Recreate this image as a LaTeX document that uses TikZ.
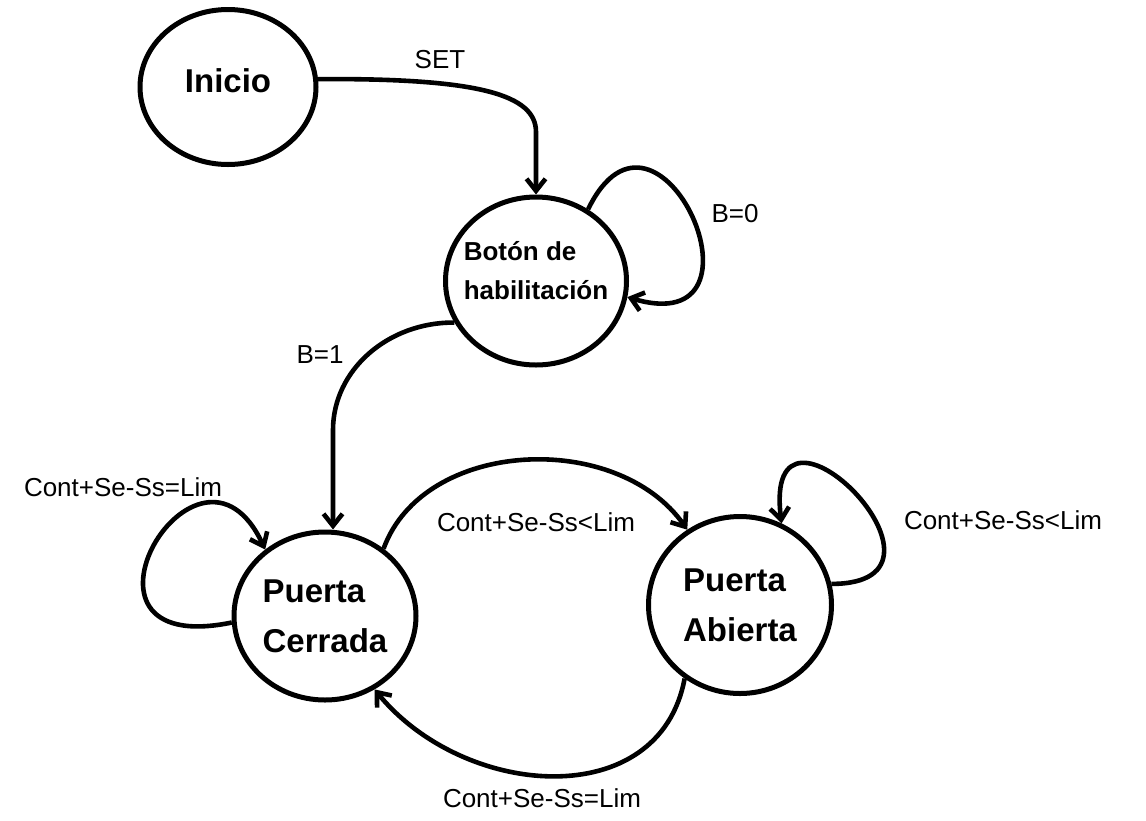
\documentclass[tikz,border=0pt]{standalone}
\usepackage{fontspec}
\setmainfont{Liberation Sans}
\usetikzlibrary{arrows.meta,positioning,shapes.geometric}

\begin{document}
\begin{tikzpicture}[x=1pt,y=-1pt,->,>={Straight Barb[length=12pt,width=19pt]},line width=4.6pt,
state/.style={ellipse,draw,line width=5pt,inner sep=0pt,align=left,font=\bfseries\fontsize{33}{50}\selectfont},
lbl/.style={font=\fontsize{26}{30}\selectfont}]
\useasboundingbox (0,0) rectangle (1146,820);
\node[state,minimum width=176pt,minimum height=155pt,text depth=13pt] (inicio) at (228,87) {Inicio};
\node[state,minimum width=181pt,minimum height=168pt,inner xsep=-14pt,text depth=22pt,font=\bfseries\fontsize{26}{39}\selectfont] (boton) at (536,281) {Botón de\\habilitación};
\node[state,minimum width=182pt,minimum height=168pt] (cerrada) at (325,616) {Puerta\\Cerrada};
\node[state,minimum width=183pt,minimum height=177pt] (abierta) at (740,605) {Puerta\\Abierta};
\coordinate (setbend) at (536,132);
\coordinate (b1bend) at (333,430);
\draw (inicio.5) .. controls (480,78) and (536,95) .. (setbend) node[lbl] (lset) at (440,60) {SET} -- (boton.north);
\draw (boton.54) .. controls +(70,-144) and +(154,46) .. (boton.-10) node[lbl] (lb0) at (735,214) {B=0};
\draw (boton.207) .. controls (388,322) and (333,370) .. (b1bend) node[lbl] (lb1) at (320,355) {B=1} -- (b1bend |- cerrada.north);
\draw (cerrada.184) .. controls +(-185,38) and +(-67,-145) .. (cerrada.132) node[lbl] (lcc) at (123,487) {Cont+Se-Ss=Lim};
\draw (cerrada.49) .. controls +(40,-110) and +(-70,-100) .. (abierta.125) node[lbl] (lca) at (536,522) {Cont+Se-Ss<Lim};
\draw (abierta.13) .. controls +(150,0) and +(-20,-160) .. (abierta.63) node[lbl] (laa) at (1003,520) {Cont+Se-Ss<Lim};
\draw (abierta.-127) .. controls +(-25,135) and +(90,110) .. (cerrada.-56) node[lbl] (lac) at (542,798) {Cont+Se-Ss=Lim};
\end{tikzpicture}
\end{document}
